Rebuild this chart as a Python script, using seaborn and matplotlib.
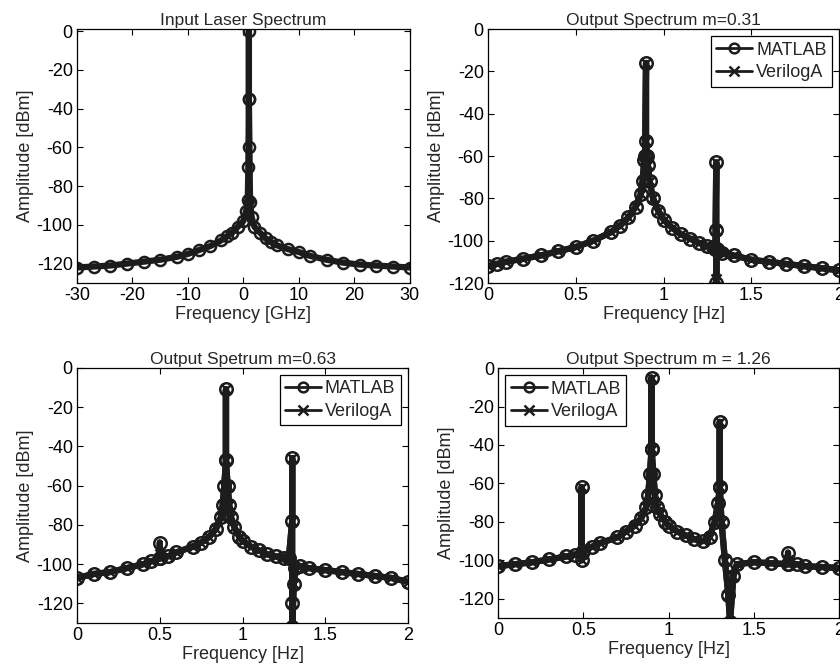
import matplotlib
matplotlib.use("Agg")
import matplotlib.pyplot as plt
import seaborn as sns

# ---- panel 1: input laser spectrum (GHz) ----
laser_freq = [-30, -27, -24, -21, -18, -15, -12, -10, -8, -6, -4, -3, -2, -1, 0, 0.5, 0.8,
              0.9, 1.0, 1.0, 1.0, 1.1, 1.2, 1.5, 2, 3, 4, 5, 6, 8, 10, 12, 15, 18, 21, 24, 27, 30]
laser_amp = [-122, -121.5, -121, -120, -119, -118, -116.5, -115, -113, -111, -108, -106, -104,
             -101, -98, -93, -87, -70, -35, 0, -35, -60, -88, -96, -101, -104, -107, -109,
             -110.5, -112.5, -114, -116, -118, -119.5, -120.5, -121, -121.5, -122]

# ---- panel 2: m = 0.31 ----
f31 = [0, 0.05, 0.1, 0.2, 0.3, 0.4, 0.5, 0.6, 0.7, 0.75, 0.8, 0.84, 0.87, 0.88, 0.89, 0.895,
       0.9, 0.9, 0.905, 0.91, 0.92, 0.94, 0.97, 1.0, 1.05, 1.1, 1.15, 1.2, 1.25, 1.28, 1.295,
       1.3, 1.3, 1.3, 1.305, 1.31, 1.33, 1.4, 1.5, 1.6, 1.7, 1.8, 1.9, 2.0]
matlab_31 = [-112, -111, -110, -108.5, -107, -105, -103, -100, -96, -93, -89, -84, -78, -72,
             -62, -60, -16, -53, -60, -64, -72, -80, -86, -90, -94, -97, -99, -101, -102.5,
             -103, -104, -63, -120, -95, -104, -105, -106, -107, -109, -110, -111, -112, -113, -114]
veriloga_31 = [-112, -111, -110, -108.5, -107, -105, -103, -100, -96, -93, -89, -84, -78, -72,
               -62, -60, -16, -53, -60, -64, -72, -80, -86, -90, -94, -97, -99, -101, -102.5,
               -103, -104, -63, -118, -95, -104, -105, -106, -107, -109, -110, -111, -112, -113, -114]

# ---- panel 3: m = 0.63 ----
f63 = [0, 0.1, 0.2, 0.3, 0.4, 0.45, 0.5, 0.5, 0.5, 0.55, 0.6, 0.7, 0.75, 0.8, 0.84, 0.87, 0.88,
       0.89, 0.9, 0.9, 0.9, 0.91, 0.92, 0.93, 0.95, 0.98, 1.0, 1.05, 1.1, 1.15, 1.2, 1.25, 1.28,
       1.3, 1.3, 1.3, 1.3, 1.31, 1.32, 1.35, 1.4, 1.5, 1.6, 1.7, 1.8, 1.9, 2.0]
matlab_63 = [-107, -105, -104, -102, -100, -98.5, -97, -89, -97, -96, -94, -91, -89, -86, -82,
             -76, -70, -60, -47, -11, -47, -60, -70, -76, -81, -86, -88, -91, -93, -95, -96, -97,
             -97, -78, -46, -120, -132, -110, -102, -101, -102, -103, -104, -105, -106, -107, -109]
veriloga_63 = [-107, -105, -104, -102, -100, -98.5, -97, -95, -97, -96, -94, -91, -89, -86, -82,
               -76, -70, -60, -47, -11, -47, -60, -70, -76, -81, -86, -88, -91, -93, -95, -96, -97,
               -97, -78, -46, -120, -132, -110, -102, -101, -102, -103, -104, -105, -106, -107, -109]

# ---- panel 4: m = 1.26 ----
f126 = [0, 0.1, 0.2, 0.3, 0.4, 0.45, 0.49, 0.49, 0.49, 0.5, 0.55, 0.6, 0.7, 0.75, 0.8, 0.84, 0.87,
        0.88, 0.89, 0.9, 0.9, 0.9, 0.91, 0.92, 0.93, 0.95, 0.98, 1.0, 1.05, 1.1, 1.15, 1.2, 1.24,
        1.27, 1.29, 1.3, 1.3, 1.3, 1.31, 1.33, 1.35, 1.36, 1.38, 1.4, 1.5, 1.6, 1.7, 1.7, 1.7,
        1.75, 1.8, 1.9, 2.0]
matlab_126 = [-103, -102, -101, -99.5, -98, -97, -96, -62, -100, -95, -93, -91, -88, -85, -82, -78,
              -72, -66, -55, -42, -5, -42, -55, -66, -72, -76, -80, -82, -85, -87, -89, -90, -88,
              -80, -70, -62, -28, -62, -80, -100, -118, -132, -108, -102, -101, -101.5, -102, -96,
              -102, -102, -103, -103.5, -104]
veriloga_126 = [-103, -102, -101, -99.5, -98, -97, -96, -62, -100, -95, -93, -91, -88, -85, -82,
                -78, -72, -66, -55, -42, -5, -42, -55, -66, -72, -76, -80, -82, -85, -87, -89, -90,
                -88, -80, -70, -62, -28, -62, -80, -100, -118, -132, -108, -102, -101, -101.5,
                -102, -100, -102, -102, -103, -103.5, -104]

ink = "#1c1c1c"
sns.set_style("ticks")
plt.rcParams["font.family"] = ["Liberation Sans", "DejaVu Sans"]

fig = plt.figure(figsize=(8.4, 6.7), dpi=100)
axes = [
    fig.add_axes([0.0917, 0.5776, 0.396, 0.379]),
    fig.add_axes([0.581, 0.5776, 0.418, 0.379]),
    fig.add_axes([0.0917, 0.070, 0.394, 0.381]),
    fig.add_axes([0.593, 0.0776, 0.406, 0.373]),
]


def draw(ax, x, y, label, marker, ms):
    sns.lineplot(x=x, y=y, ax=ax, sort=False, estimator=None, color=ink, lw=4.5,
                 marker=marker, markersize=ms, markerfacecolor="none",
                 markeredgecolor=ink, markeredgewidth=1.8, label=label)


def style(ax, title, xlabel, xlim, xticks, ylim, yticks):
    ax.set_xlim(xlim)
    ax.set_ylim(ylim)
    ax.set_xticks(xticks)
    ax.set_yticks(yticks)
    ax.set_xticklabels([("%g" % t) for t in xticks])
    ax.set_yticklabels([("%g" % t) for t in yticks])
    ax.set_title(title, fontsize=12.5, pad=3)
    ax.set_xlabel(xlabel, fontsize=13, labelpad=1)
    ax.set_ylabel("Amplitude [dBm]", fontsize=13, labelpad=2)
    ax.tick_params(direction="in", top=True, right=True, length=4, width=0.8,
                   labelsize=13, colors="black", pad=3)
    for s in ax.spines.values():
        s.set_color("black")
        s.set_linewidth(0.9)


hz_ticks = [0, 0.5, 1, 1.5, 2]

draw(axes[0], laser_freq, laser_amp, None, "o", 8)
style(axes[0], "Input Laser Spectrum", "Frequency [GHz]", (-30, 30),
      [-30, -20, -10, 0, 10, 20, 30], (-130, 1), [-120, -100, -80, -60, -40, -20, 0])

panels = [
    (axes[1], f31, matlab_31, veriloga_31, "Output Spectrum m=0.31", "Frequency [Hz]",
     (-120, 0), [-120, -100, -80, -60, -40, -20, 0], "upper right"),
    (axes[2], f63, matlab_63, veriloga_63, "Output Spetrum m=0.63", "Frequency [Hz]",
     (-130, 0), [-120, -100, -80, -60, -40, -20, 0], "upper right"),
    (axes[3], f126, matlab_126, veriloga_126, "Output Spectrum m = 1.26", "Frequency [Hz]",
     (-130, 0), [-120, -100, -80, -60, -40, -20, 0], "upper left"),
]
for ax, f, ym, yv, title, xl, ylim, yt, loc in panels:
    draw(ax, f, ym, "MATLAB", "o", 9)
    draw(ax, f, yv, "VerilogA", "x", 7)
    style(ax, title, xl, (0, 2), hz_ticks, ylim, yt)
    leg = ax.legend(loc=loc, fontsize=13, fancybox=False, framealpha=1,
                    edgecolor="black", borderpad=0.3, handlelength=2.0,
                    handletextpad=0.2, labelspacing=0.3, borderaxespad=0.4)
    leg.get_frame().set_linewidth(0.9)
    for h in leg.get_lines():
        h.set_linewidth(2)
        h.set_markersize(7)

if axes[0].get_legend() is not None:
    axes[0].get_legend().remove()

fig.savefig("out.png", dpi=100)
